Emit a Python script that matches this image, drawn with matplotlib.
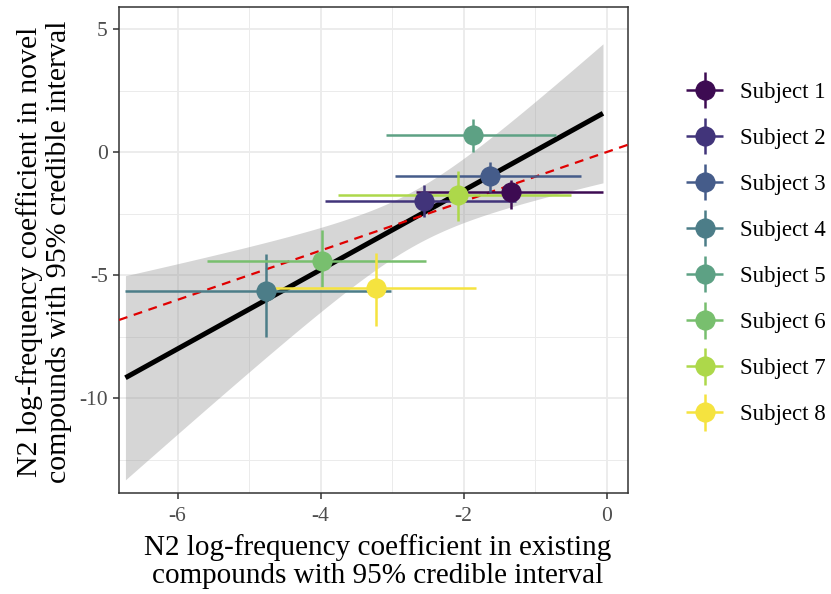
import numpy as np
import matplotlib
matplotlib.use("Agg")
import matplotlib.pyplot as plt
from matplotlib.ticker import MultipleLocator
from matplotlib.legend_handler import HandlerErrorbar
from matplotlib.container import ErrorbarContainer

# posterior means and 95% credible intervals for each subject
subjects = ["Subject 1", "Subject 2", "Subject 3", "Subject 4",
            "Subject 5", "Subject 6", "Subject 7", "Subject 8"]
existing_mean = [-1.33, -2.56, -1.63, -4.77, -1.87, -3.98, -2.08, -3.22]
existing_lo = [-2.67, -3.94, -2.96, -6.73, -3.09, -5.59, -3.76, -4.65]
existing_hi = [-0.05, -1.26, -0.36, -3.01, -0.71, -2.53, -0.50, -1.83]
novel_mean = [-1.63, -1.98, -0.99, -5.65, 0.70, -4.41, -1.74, -5.53]
novel_lo = [-2.32, -2.62, -1.60, -7.50, 0.02, -5.46, -2.78, -7.05]
novel_hi = [-1.13, -1.33, -0.41, -4.15, 1.35, -3.16, -0.76, -4.11]
colors = ["#3d0b52", "#41347a", "#455c8a", "#4c7d88",
          "#5da184", "#78bf6e", "#add84a", "#f5e33f"]

plt.rcParams["font.family"] = ["Liberation Serif", "DejaVu Serif"]
plt.rcParams["axes.unicode_minus"] = False

fig = plt.figure(figsize=(8.31, 5.94), dpi=100)
ax = fig.add_axes([0.1432, 0.170, 0.6125, 0.8188])

x = np.array(existing_mean)
y = np.array(novel_mean)

# ordinary least squares fit with 95% confidence band
n = len(x)
mx, my = x.mean(), y.mean()
sxx = ((x - mx) ** 2).sum()
slope = ((x - mx) * (y - my)).sum() / sxx
icpt = my - slope * mx
resid = y - (icpt + slope * x)
s = np.sqrt((resid ** 2).sum() / (n - 2))
t_crit = 2.447  # t quantile, 0.975, df = 6
xs = np.linspace(min(existing_lo), max(existing_hi), 100)
fit = icpt + slope * xs
se = s * np.sqrt(1 / n + (xs - mx) ** 2 / sxx)

ax.fill_between(xs, fit - t_crit * se, fit + t_crit * se,
                color="#999999", alpha=0.4, lw=0, zorder=2)
ax.plot(xs, fit, color="black", lw=3.6, zorder=3, solid_capstyle="butt")

# identity line
ax.axline((0, 0), slope=1, color="#e00000", lw=1.6, ls=(0, (4, 3)), zorder=4)

handles = []
for i in range(n):
    xe = [[existing_mean[i] - existing_lo[i]], [existing_hi[i] - existing_mean[i]]]
    ye = [[novel_mean[i] - novel_lo[i]], [novel_hi[i] - novel_mean[i]]]
    h = ax.errorbar(existing_mean[i], novel_mean[i], xerr=xe, yerr=ye,
                    fmt="o", color=colors[i], ms=13.5, elinewidth=1.8,
                    capsize=0, zorder=5, label=subjects[i])
    handles.append(h)

ax.set_xlim(-6.82, 0.30)
ax.set_ylim(-13.85, 5.91)
ax.xaxis.set_major_locator(MultipleLocator(2))
ax.xaxis.set_minor_locator(MultipleLocator(1))
ax.yaxis.set_major_locator(MultipleLocator(5))
ax.yaxis.set_minor_locator(MultipleLocator(2.5))
ax.grid(which="major", color="#ebebeb", lw=1.3, zorder=0)
ax.grid(which="minor", color="#ebebeb", lw=0.7, zorder=0)
ax.set_axisbelow(True)
for sp in ax.spines.values():
    sp.set_color("#333333")
    sp.set_linewidth(1.1)
ax.tick_params(which="major", length=4.5, width=1.1, color="#333333",
               labelsize=15.5, labelcolor="#4d4d4d")
ax.tick_params(axis="x", pad=5.5)
ax.tick_params(axis="y", pad=3.5)
ax.tick_params(which="minor", length=0)

fig.text(0.455, 0.054, "N2 log-frequency coefficient in existing\ncompounds with 95% credible interval",
         ha="center", va="center", fontsize=21, linespacing=1.1)
fig.text(0.053, 0.576, "N2 log-frequency coefficient in novel\ncompounds with 95% credible interval",
         ha="center", va="center", rotation=90, fontsize=21.5, linespacing=1.15)

fig.legend(handles=handles, labels=subjects, loc="center left",
           bbox_to_anchor=(0.826, 0.573), frameon=False, fontsize=16.5,
           handlelength=1.6, handletextpad=0.75, labelspacing=1.09,
           borderpad=0, borderaxespad=0,
           handler_map={ErrorbarContainer: HandlerErrorbar(xerr_size=0.8)})

fig.savefig("out.png", dpi=100)
